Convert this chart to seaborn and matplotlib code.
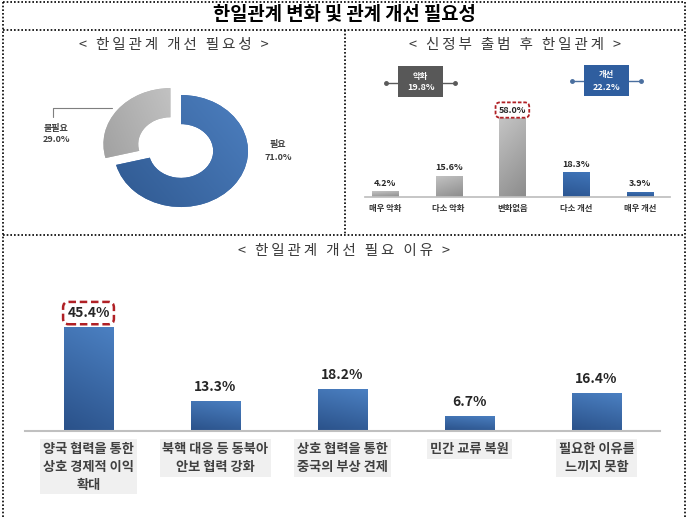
import numpy as np
import matplotlib
matplotlib.use("Agg")
import matplotlib.pyplot as plt
import matplotlib.colors as mcolors
from matplotlib.lines import Line2D
from matplotlib.patches import Rectangle
import seaborn as sns

# 데이터
need_labels = ["필요", "불필요"]
need_values = [71.0, 29.0]

change_cats = ["매우 악화", "다소 악화", "변화없음", "다소 개선", "매우 개선"]
change_values = [4.2, 15.6, 58.0, 18.3, 3.9]

group_labels = ["악화", "개선"]
group_values = [19.8, 22.2]

reason_cats = [
    "양국 협력을 통한\n상호 경제적 이익\n확대",
    "북핵 대응 등 동북아\n안보 협력 강화",
    "상호 협력을 통한\n중국의 부상 견제",
    "민간 교류 복원",
    "필요한 이유를\n느끼지 못함",
]
reason_values = [45.4, 13.3, 18.2, 6.7, 16.4]

sns.set_theme(style="white")
plt.rcParams["font.family"] = ["Noto Sans CJK KR", "DejaVu Sans"]

W, H = 687, 518
fig = plt.figure(figsize=(W / 100, H / 100), dpi=100, facecolor="white")


def frect(x0, y0, x1, y1):
    return [x0 / W, 1 - y1 / H, (x1 - x0) / W, (y1 - y0) / H]


def fx(x):
    return x / W


def fy(y):
    return 1 - y / H


def spaced(s):
    # 자간을 넓게 (thin space 삽입)
    return "\u2009".join(s)


def gradient_fill(ax, patch, c_start, c_end, angle, extent):
    n = 64
    g = np.linspace(0, 1, n)
    X, Y = np.meshgrid(g, g)
    a = np.deg2rad(angle)
    t = X * np.cos(a) + Y * np.sin(a)
    t = (t - t.min()) / (t.max() - t.min())
    c0 = np.array(mcolors.to_rgb(c_start))
    c1 = np.array(mcolors.to_rgb(c_end))
    img = c0 + t[..., None] * (c1 - c0)
    im = ax.imshow(img, extent=extent, origin="lower", aspect="auto",
                   interpolation="bilinear", zorder=patch.get_zorder() + 0.01)
    im.set_clip_path(patch)


def dotted(x0, y0, x1, y1):
    fig.add_artist(Line2D([fx(x0), fx(x1)], [fy(y0), fy(y1)],
                          transform=fig.transFigure, color="black",
                          lw=1.2, linestyle=(0, (1, 1.2))))


# 테두리
dotted(3, 2, 685, 2)
dotted(3, 2, 3, 518)
dotted(685, 2, 685, 518)
dotted(3, 30, 685, 30)
dotted(345, 30, 345, 235)
dotted(3, 235, 685, 235)

fig.text(fx(344), fy(15), "한일관계 변화 및 관계 개선 필요성", ha="center", va="center",
         fontsize=13.5, fontweight="bold", color="black")

sub_style = dict(ha="center", va="center", fontsize=10.5, color="#3a3a3a")
fig.text(fx(174), fy(45), spaced("< 한일관계 개선 필요성 >"), **sub_style)
fig.text(fx(515), fy(45), spaced("< 신정부 출범 후 한일관계 >"), **sub_style)
fig.text(fx(344), fy(251), spaced("< 한일관계 개선 필요 이유 >"), **sub_style)

# ---- 도넛 차트 ----
cx, cy, rx, ry = 181, 151, 67, 56
ax_pie = fig.add_axes(frect(cx - 1.35 * rx, cy - 1.35 * ry, cx + 1.35 * rx, cy + 1.35 * ry))
wedges, _ = ax_pie.pie(need_values, startangle=90, counterclock=False,
                       explode=[0, 0.2], colors=["#3a6aab", "#b5b5b5"],
                       wedgeprops=dict(width=0.52, edgecolor="none"))
ax_pie.set_aspect("auto")
ext = [-1.35, 1.35, -1.35, 1.35]
gradient_fill(ax_pie, wedges[0], "#2a5288", "#5286c8", 35, ext)
gradient_fill(ax_pie, wedges[1], "#939393", "#e6e6e6", 20, ext)
ax_pie.set_xlim(-1.35, 1.35)
ax_pie.set_ylim(-1.35, 1.35)
ax_pie.axis("off")

lab_style = dict(ha="center", va="center", fontsize=6.5, fontweight="bold", color="#404040")
fig.text(fx(278), fy(145), need_labels[0], **lab_style)
fig.text(fx(278), fy(157), f"{need_values[0]:.1f}%", **lab_style)
fig.text(fx(56), fy(128), need_labels[1], **lab_style)
fig.text(fx(56), fy(140), f"{need_values[1]:.1f}%", **lab_style)
fig.add_artist(Line2D([fx(112), fx(53), fx(53)], [fy(108), fy(108), fy(117)],
                      transform=fig.transFigure, color="#7f7f7f", lw=0.8))

# ---- 신정부 출범 후 한일관계 ----
ax_c = fig.add_axes(frect(365, 60, 670, 197))
change_colors = ["#a6a6a6", "#a6a6a6", "#a6a6a6", "#3566a8", "#3566a8"]
sns.barplot(x=change_cats, y=change_values, hue=change_cats, palette=change_colors,
            width=0.41, saturation=1, legend=False, ax=ax_c)
for p, col in zip(sorted(ax_c.patches, key=lambda q: q.get_x()), change_colors):
    x0, w, h = p.get_x(), p.get_width(), p.get_height()
    if col == "#a6a6a6":
        gradient_fill(ax_c, p, "#8c8c8c", "#c4c4c4", 110, [x0, x0 + w, 0, h])
    else:
        gradient_fill(ax_c, p, "#2b5591", "#4075b9", 80, [x0, x0 + w, 0, h])
ax_c.set_xlim(-0.31, 4.47)
ax_c.set_ylim(0, 100.6)
for cont, v in zip(ax_c.containers, change_values):
    txts = ax_c.bar_label(cont, labels=[f"{v:.1f}%"], padding=2.5, fontsize=6.5,
                          fontweight="bold", color="#262626")
    if v == max(change_values):
        txts[0].set_bbox(dict(boxstyle="round,pad=0.35,rounding_size=0.5", facecolor="white",
                              edgecolor="#b02025", linestyle=(0, (2, 1)), lw=1.3))
ax_c.set_facecolor("none")
ax_c.set_xlabel("")
ax_c.set_ylabel("")
ax_c.set_yticks([])
sns.despine(ax=ax_c, left=True)
ax_c.spines["bottom"].set_color("#bfbfbf")
ax_c.tick_params(axis="x", length=0, pad=5, labelsize=6, labelcolor="#333333")
for lbl in ax_c.get_xticklabels():
    lbl.set_fontweight("bold")

# 악화 / 개선 박스
for (x0, x1, y0, y1, lx0, lx1, ly, fc, lc), name, val in zip(
        [(398, 443, 66, 97, 386, 455, 83, "#585858", "#5a5a5a"),
         (584, 629, 65, 96, 572, 641, 81, "#2f5e9f", "#4a6f9f")],
        group_labels, group_values):
    fig.add_artist(Line2D([fx(lx0), fx(lx1)], [fy(ly), fy(ly)], transform=fig.transFigure,
                          color=lc, lw=1, marker="o", markersize=2.5, zorder=3))
    fig.add_artist(Rectangle((fx(x0), fy(y1)), fx(x1 - x0), (y1 - y0) / H,
                             transform=fig.transFigure, facecolor=fc, edgecolor="none", zorder=4))
    fig.text(fx((x0 + x1) / 2), fy(y0 + 10), name, ha="center", va="center",
             fontsize=6, fontweight="bold", color="white", zorder=5)
    fig.text(fx((x0 + x1) / 2), fy(y0 + 22), f"{val:.1f}%", ha="center", va="center",
             fontsize=6.5, fontweight="bold", color="white", zorder=5)

# ---- 한일관계 개선 필요 이유 ----
ax_r = fig.add_axes(frect(25, 270, 660, 431))
sns.barplot(x=reason_cats, y=reason_values, hue=reason_cats,
            palette=["#3a6aab"] * len(reason_cats), width=0.39, saturation=1,
            legend=False, ax=ax_r)
for p in ax_r.patches:
    x0, w, h = p.get_x(), p.get_width(), p.get_height()
    gradient_fill(ax_r, p, "#2a5189", "#4b80c2", 75, [x0, x0 + w, 0, h])
ax_r.set_xlim(-0.5, 4.5)
ax_r.set_ylim(0, 70.3)
for cont, v in zip(ax_r.containers, reason_values):
    txts = ax_r.bar_label(cont, labels=[f"{v:.1f}%"], padding=5, fontsize=10,
                          fontweight="bold", color="#262626")
    if v == max(reason_values):
        txts[0].set_bbox(dict(boxstyle="round,pad=0.3,rounding_size=0.4", facecolor="white",
                              edgecolor="#b02025", linestyle=(0, (3, 1.5)), lw=1.8))
ax_r.set_facecolor("none")
ax_r.set_xlabel("")
ax_r.set_ylabel("")
ax_r.set_yticks([])
sns.despine(ax=ax_r, left=True)
ax_r.spines["bottom"].set_color("#c0c0c0")
ax_r.spines["bottom"].set_linewidth(1.5)
ax_r.tick_params(axis="x", length=0, pad=8, labelsize=9.5, labelcolor="#404040")
for lbl in ax_r.get_xticklabels():
    lbl.set_fontweight("bold")
    lbl.set_linespacing(1.35)
    lbl.set_bbox(dict(facecolor="#f0f0f0", edgecolor="none", boxstyle="square,pad=0.2"))

fig.savefig("out.png", dpi=100, facecolor="white")
plt.close(fig)
